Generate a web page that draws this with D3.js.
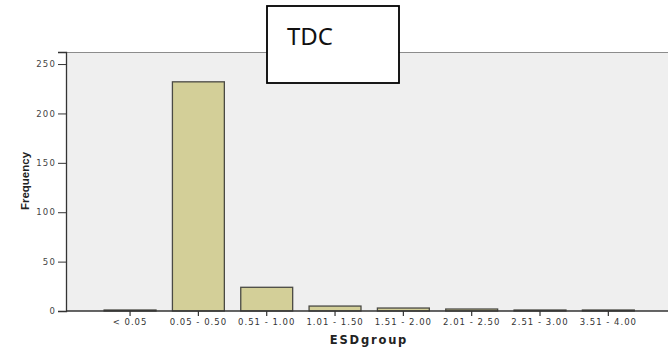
<!DOCTYPE html>
<html>
<head>
<meta charset="utf-8">
<script src="https://cdn.jsdelivr.net/npm/d3@7"></script>
<style>
  html, body { margin: 0; padding: 0; background: #fff; }
  svg { display: block; }
</style>
</head>
<body>
<svg id="chart" width="668" height="352"></svg>
<script>
const categories = ["< 0.05", "0.05 - 0.50", "0.51 - 1.00", "1.01 - 1.50", "1.51 - 2.00", "2.01 - 2.50", "2.51 - 3.00", "3.51 - 4.00"];
const frequencies = [1, 232, 24, 5, 3, 2, 1, 1];
const yTicks = [0, 50, 100, 150, 200, 250];
const chartTitle = "TDC";
const xTitle = "ESDgroup";
const yTitle = "Frequency";

const svg = d3.select("#chart");
const plot = { left: 66, right: 668, top: 52, bottom: 311 };

const x = d3.scaleBand().domain(categories).range([95.9, 642.5]).paddingInner(0.24).paddingOuter(0.12);
const y = d3.scaleLinear().domain([0, 262.2]).range([plot.bottom, plot.top]);

// plot background
svg.append("rect")
  .attr("x", plot.left).attr("y", plot.top)
  .attr("width", plot.right - plot.left).attr("height", plot.bottom - plot.top)
  .attr("fill", "#efefef");
svg.append("line")
  .attr("x1", plot.left).attr("x2", plot.right)
  .attr("y1", plot.top + 0.5).attr("y2", plot.top + 0.5)
  .attr("stroke", "#8c8c8c").attr("stroke-width", 1.2);

// bars
svg.append("g").selectAll("rect").data(categories).join("rect")
  .attr("x", d => x(d))
  .attr("y", (d, i) => y(frequencies[i]))
  .attr("width", x.bandwidth())
  .attr("height", (d, i) => plot.bottom - y(frequencies[i]))
  .attr("fill", "#d3cf98")
  .attr("stroke", "#4a4a44")
  .attr("stroke-width", 1.3);

// y axis
const yAxis = d3.axisLeft(y).tickValues(yTicks).tickSize(8).tickPadding(2);
const gy = svg.append("g").attr("transform", `translate(${plot.left},0)`).call(yAxis);
gy.select(".domain").attr("stroke", "#333").attr("stroke-width", 1.3);
gy.selectAll(".tick line").attr("stroke", "#333");
gy.selectAll(".tick text").attr("font-family", "DejaVu Sans, sans-serif")
  .attr("font-size", 8.5).attr("letter-spacing", 1.2).attr("fill", "#444");

// x axis
const xAxis = d3.axisBottom(x).tickSize(5).tickPadding(3);
const gx = svg.append("g").attr("transform", `translate(0,${plot.bottom})`).call(xAxis);
gx.select(".domain").remove();
gx.selectAll(".tick line").attr("stroke", "#333").attr("stroke-width", 1.2);
gx.selectAll(".tick text").attr("font-family", "DejaVu Sans, sans-serif")
  .attr("font-size", 8.5).attr("letter-spacing", 1.0).attr("fill", "#333");
svg.append("line")
  .attr("x1", plot.left).attr("x2", plot.right)
  .attr("y1", plot.bottom).attr("y2", plot.bottom)
  .attr("stroke", "#333").attr("stroke-width", 1.3);

// axis titles
svg.append("text")
  .attr("x", 369).attr("y", 344)
  .attr("text-anchor", "middle")
  .attr("font-family", "DejaVu Sans, sans-serif")
  .attr("font-weight", "bold").attr("font-size", 11.5).attr("letter-spacing", 1.8).attr("fill", "#222")
  .text(xTitle);
svg.append("text")
  .attr("transform", "translate(29,181) rotate(-90)")
  .attr("text-anchor", "middle")
  .attr("font-family", "Liberation Sans, Arial, sans-serif")
  .attr("font-weight", "bold").attr("font-size", 11.5).attr("fill", "#222")
  .text(yTitle);

// title box
svg.append("rect")
  .attr("x", 267).attr("y", 6).attr("width", 132).attr("height", 77)
  .attr("fill", "#fff").attr("stroke", "#000").attr("stroke-width", 1.8);
svg.append("text")
  .attr("x", 287).attr("y", 45)
  .attr("font-family", "Noto Sans, Open Sans, sans-serif")
  .attr("font-size", 24).attr("fill", "#111")
  .text(chartTitle);
</script>
</body>
</html>
